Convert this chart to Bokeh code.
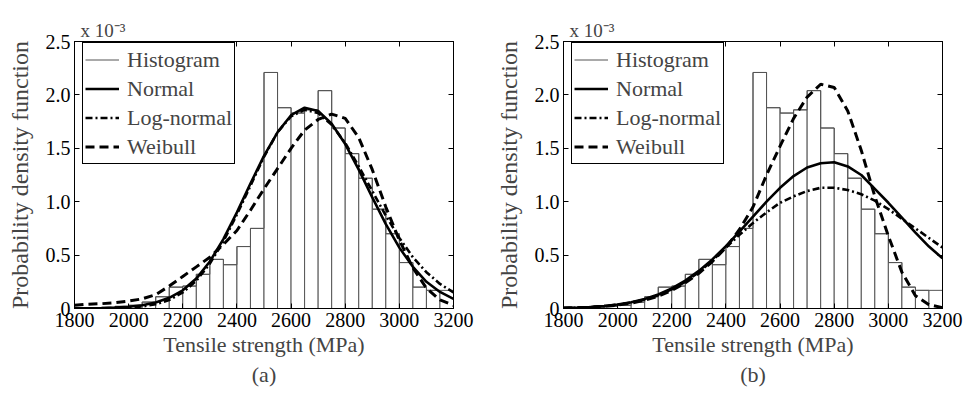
from bokeh.plotting import figure
from bokeh.models import LinearAxis, Range1d, Title, Legend, LegendItem, FixedTicker
from bokeh.layouts import row
from bokeh.embed import file_html
from bokeh.resources import INLINE

# ---- data ----
bin_left = list(range(1800, 3200, 50))
bin_width = 50
hist_density = [0.005, 0.008, 0.01, 0.02, 0.03, 0.06, 0.11, 0.20, 0.21, 0.32,
                0.46, 0.41, 0.58, 0.75, 2.21, 1.88, 1.83, 1.86, 2.04, 1.69,
                1.45, 1.22, 0.93, 0.70, 0.43, 0.20, 0.17, 0.17]

x_strength = list(range(1800, 3201, 50))

normal_a = [0.001, 0.002, 0.004, 0.008, 0.016, 0.030, 0.057, 0.10, 0.17, 0.28,
            0.44, 0.65, 0.90, 1.17, 1.43, 1.65, 1.81, 1.88, 1.85, 1.73,
            1.54, 1.30, 1.04, 0.79, 0.57, 0.39, 0.25, 0.155, 0.09]
lognormal_a = [0.000, 0.001, 0.002, 0.004, 0.009, 0.019, 0.040, 0.08, 0.15, 0.26,
               0.42, 0.63, 0.88, 1.15, 1.42, 1.65, 1.80, 1.86, 1.83, 1.72,
               1.55, 1.33, 1.10, 0.87, 0.66, 0.48, 0.34, 0.23, 0.15]
weibull_a = [0.03, 0.04, 0.045, 0.055, 0.07, 0.09, 0.13, 0.21, 0.30, 0.39,
             0.48, 0.60, 0.73, 0.92, 1.12, 1.31, 1.50, 1.67, 1.77, 1.82,
             1.78, 1.60, 1.30, 0.95, 0.64, 0.38, 0.19, 0.08, 0.03]

normal_b = [0.005, 0.008, 0.014, 0.023, 0.038, 0.059, 0.089, 0.132, 0.188, 0.261,
            0.352, 0.46, 0.584, 0.72, 0.86, 1.00, 1.13, 1.24, 1.32, 1.36,
            1.37, 1.33, 1.25, 1.12, 0.99, 0.85, 0.71, 0.58, 0.47]
lognormal_b = [0.005, 0.008, 0.013, 0.022, 0.036, 0.056, 0.085, 0.125, 0.18, 0.25,
               0.34, 0.45, 0.57, 0.69, 0.80, 0.90, 0.99, 1.05, 1.10, 1.13,
               1.13, 1.11, 1.07, 1.01, 0.93, 0.84, 0.75, 0.66, 0.57]
weibull_b = [0.004, 0.007, 0.012, 0.020, 0.032, 0.05, 0.077, 0.115, 0.17, 0.24,
             0.33, 0.44, 0.57, 0.74, 0.95, 1.25, 1.52, 1.78, 1.98, 2.10,
             2.07, 1.85, 1.48, 1.05, 0.68, 0.34, 0.12, 0.035, 0.008]

x_ticks = [1800, 2000, 2200, 2400, 2600, 2800, 3000, 3200]
y_ticks = [0, 0.5, 1.0, 1.5, 2.0, 2.5]
y_tick_labels = ["0", "0.5", "1.0", "1.5", "2.0", "2.5"]

FONT = "Liberation Serif"


def style_axis(ax, ticks, show_labels=True):
    ax.ticker = FixedTicker(ticks=ticks)
    ax.major_tick_in = 5
    ax.major_tick_out = 0
    ax.minor_tick_in = 0
    ax.minor_tick_out = 0
    ax.axis_line_color = "black"
    ax.major_tick_line_color = "black"
    ax.major_label_text_font = FONT
    ax.major_label_text_color = "black"
    ax.major_label_text_font_size = "20px"
    if show_labels:
        ax.major_label_standoff = 4
    else:
        ax.major_label_overrides = {t: "" for t in ticks}
        ax.major_label_standoff = 0


def make_panel(normal, lognormal, weibull, tag, bl, br):
    p = figure(width=484, height=396, x_range=Range1d(1800, 3200), y_range=Range1d(0, 2.5),
               output_backend="svg", toolbar_location=None,
               min_border_left=bl, min_border_right=br, min_border_top=41, min_border_bottom=88)
    p.xgrid.visible = False
    p.ygrid.visible = False
    p.outline_line_color = "black"
    p.background_fill_color = "white"
    p.border_fill_color = "white"

    right = [b + bin_width for b in bin_left]
    p.quad(left=bin_left, right=right, bottom=0, top=hist_density,
           fill_color="white", line_color="#555555", line_width=1)
    hist_outline = p.step(x=bin_left, y=hist_density, mode="after",
                          line_color="#555555", line_width=1)

    r_n = p.line(x_strength, normal, line_color="black", line_width=2.6)
    r_l = p.line(x_strength, lognormal, line_color="black", line_width=2.6, line_dash="7 3 2 3")
    r_w = p.line(x_strength, weibull, line_color="black", line_width=3, line_dash="9 5")

    xa = p.xaxis[0]
    style_axis(xa, x_ticks)
    xa.axis_label = "Tensile strength (MPa)"
    xa.axis_label_text_font = FONT
    xa.axis_label_text_font_size = "22px"
    xa.axis_label_text_font_style = "normal"
    xa.axis_label_standoff = 2

    ya = p.yaxis[0]
    style_axis(ya, y_ticks)
    ya.major_label_overrides = {t: s for t, s in zip(y_ticks, y_tick_labels)}
    ya.axis_label = "Probability density function"
    ya.axis_label_text_font = FONT
    ya.axis_label_text_font_size = "24px"
    ya.axis_label_text_font_style = "normal"
    ya.axis_label_standoff = 10

    top_ax = LinearAxis()
    style_axis(top_ax, x_ticks, show_labels=False)
    p.add_layout(top_ax, "above")
    right_ax = LinearAxis()
    style_axis(right_ax, y_ticks, show_labels=False)
    p.add_layout(right_ax, "right")

    legend = Legend(items=[LegendItem(label="Histogram", renderers=[hist_outline]),
                           LegendItem(label="Normal", renderers=[r_n]),
                           LegendItem(label="Log-normal", renderers=[r_l]),
                           LegendItem(label="Weibull", renderers=[r_w])],
                    location=(8, 144), margin=0, padding=2, spacing=0,
                    glyph_width=34, glyph_height=29, label_height=29, label_standoff=8,
                    label_text_font=FONT, label_text_font_size="22px",
                    border_line_color="black", border_line_width=1, border_line_alpha=1,
                    background_fill_alpha=1)
    p.add_layout(legend, "center")

    p.add_layout(Title(text="x 10\u207b\u00b3", align="left", offset=6, standoff=2,
                       text_font=FONT, text_font_size="19px", text_font_style="normal"), "above")

    t = Title(text=tag, align="center", text_font=FONT, text_font_size="22px",
              text_font_style="normal", standoff=0)
    p.add_layout(t, "below")
    return p


pa = make_panel(normal_a, lognormal_a, weibull_a, "(a)", 74, 31)
pb = make_panel(normal_b, lognormal_b, weibull_b, "(b)", 79, 26)

layout = row(pa, pb)
open("out.html", "w").write(file_html(layout, INLINE))
